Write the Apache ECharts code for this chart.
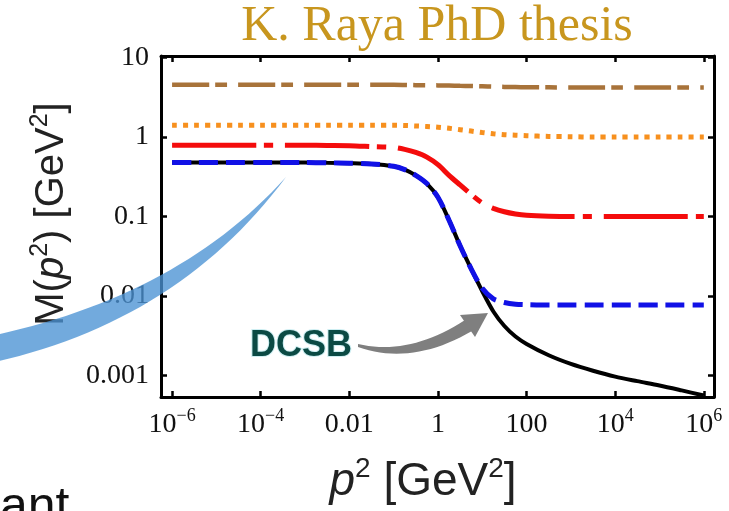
<!DOCTYPE html>
<html>
<head>
<meta charset="utf-8">
<script src="https://cdn.jsdelivr.net/npm/echarts@6/dist/echarts.min.js"></script>
<style>
  html, body { margin: 0; padding: 0; background: #fff; }
  #chart { width: 729px; height: 511px; }
</style>
</head>
<body>
<div id="chart"></div>
<script>
// Momentum grid p^2 [GeV^2]: half decades, quarter decades through the drop
const p2 = [1e-6, 3.16e-6, 1e-5, 3.16e-5, 1e-4, 3.16e-4, 1e-3, 3.16e-3, 0.01, 0.0316,
            0.1, 0.178, 0.316, 0.562, 1, 1.78, 3.16, 5.62, 10, 17.8, 31.6, 56.2, 100,
            316, 1e3, 3.16e3, 1e4, 3.16e4, 1e5, 3.16e5, 1e6];

// Mass functions M(p^2) [GeV]
const chiral  = [0.48, 0.48, 0.48, 0.48, 0.48, 0.48, 0.48, 0.475, 0.47, 0.46,
                 0.43, 0.39, 0.33, 0.26, 0.175, 0.09, 0.043, 0.022, 0.0115, 0.0064, 0.0042, 0.0031, 0.0025,
                 0.0018, 0.0014, 0.00115, 0.00097, 0.00085, 0.00075, 0.00065, 0.00056];
const light   = [0.48, 0.48, 0.48, 0.48, 0.48, 0.48, 0.48, 0.475, 0.47, 0.46,
                 0.43, 0.39, 0.33, 0.26, 0.175, 0.09, 0.043, 0.022, 0.0125, 0.0092, 0.0083, 0.0079, 0.0078,
                 0.0077, 0.0077, 0.0077, 0.0077, 0.0077, 0.0077, 0.0077, 0.0077];
const strange = [0.79, 0.79, 0.79, 0.79, 0.79, 0.79, 0.79, 0.785, 0.78, 0.76,
                 0.74, 0.70, 0.64, 0.56, 0.45, 0.33, 0.25, 0.19, 0.148, 0.127, 0.115, 0.108, 0.104,
                 0.101, 0.1, 0.1, 0.1, 0.1, 0.1, 0.1, 0.1];
const charm   = [1.41, 1.41, 1.41, 1.41, 1.41, 1.41, 1.41, 1.41, 1.41, 1.41,
                 1.41, 1.40, 1.38, 1.36, 1.33, 1.29, 1.24, 1.19, 1.14, 1.10, 1.07, 1.055, 1.04,
                 1.02, 1.01, 1.0, 1.0, 1.0, 1.0, 1.0, 1.0];
const bottom  = [4.55, 4.55, 4.55, 4.55, 4.55, 4.55, 4.55, 4.55, 4.55, 4.55,
                 4.55, 4.53, 4.5, 4.48, 4.47, 4.45, 4.42, 4.39, 4.35, 4.31, 4.28, 4.26, 4.24,
                 4.22, 4.2, 4.2, 4.2, 4.2, 4.2, 4.2, 4.2];

// Tick positions (decimal exponents) and their labels
const xTicks = [-6, -4, -2, 0, 2, 4, 6];
const xTickLabels = ['{b|10}{s|\u22126}', '{b|10}{s|\u22124}', '{b|0.01}', '{b|1}', '{b|100}', '{b|10}{s|4}', '{b|10}{s|6}'];
const yTicks = [-3, -2, -1, 0, 1];
const yTickLabels = ['0.001', '0.01', '0.1', '1', '10'];

const SERIF = '"Liberation Serif", "Times New Roman", serif';
const SANS = '"Liberation Sans", Arial, sans-serif';

function toLog(ys) {
  return p2.map((x, i) => [Math.log10(x), Math.log10(ys[i])]);
}

// sample a quadratic Bezier into polygon vertices (for the annotation shapes)
function quad(p0, c, p1, n) {
  const pts = [];
  for (let k = 0; k <= n; k++) {
    const t = k / n, u = 1 - t;
    pts.push([u * u * p0[0] + 2 * u * t * c[0] + t * t * p1[0],
              u * u * p0[1] + 2 * u * t * c[1] + t * t * p1[1]]);
  }
  return pts;
}

const chart = echarts.init(document.getElementById('chart'));

const frameLine = { show: true, onZero: false, lineStyle: { color: '#000', width: 3 } };
const tickStyle = { color: '#000', width: 2.5 };

function xAxisDef(pos, labels) {
  return {
    type: 'value', position: pos, min: -6.25, max: 6.23,
    axisLine: frameLine,
    splitLine: { show: false },
    axisTick: { show: true, inside: true, length: 6, customValues: xTicks, lineStyle: tickStyle },
    axisLabel: labels ? {
      show: true, customValues: xTicks, margin: 10,
      formatter: v => xTickLabels[xTicks.indexOf(Math.round(v))],
      rich: {
        b: { fontFamily: SERIF, fontSize: 28, color: '#111', verticalAlign: 'bottom', lineHeight: 32 },
        s: { fontFamily: SERIF, fontSize: 18, color: '#111', verticalAlign: 'top', lineHeight: 18 }
      }
    } : { show: false }
  };
}

function yAxisDef(pos, labels) {
  return {
    type: 'value', position: pos, min: -3.27, max: 1.02,
    axisLine: frameLine,
    splitLine: { show: false },
    axisTick: { show: true, inside: true, length: 6, customValues: yTicks, lineStyle: tickStyle },
    axisLabel: labels ? {
      show: true, customValues: yTicks, margin: 12,
      formatter: v => yTickLabels[yTicks.indexOf(Math.round(v))],
      fontFamily: SERIF, fontSize: 28, color: '#111'
    } : { show: false }
  };
}

function curve(name, ys, color, width, dash, z) {
  return {
    name, type: 'line', data: toLog(ys), showSymbol: false, smooth: 0.3,
    z, silent: true,
    lineStyle: { color, width, type: dash, cap: 'butt' }
  };
}

const bandPts = quad([-5, 335], [180, 295], [286, 177], 30).concat(quad([286, 177], [180, 320], [-5, 362], 30));
const arrowBody = quad([358, 344], [410, 356], [465, 320], 20).concat(quad([472, 331], [412, 366], [358, 347], 20));

chart.setOption({
  animation: false,
  backgroundColor: '#fff',
  grid: { left: 161, right: 15, top: 56, bottom: 114 },
  xAxis: [xAxisDef('bottom', true), xAxisDef('top', false)],
  yAxis: [yAxisDef('left', true), yAxisDef('right', false)],
  series: [
    curve('bottom', bottom, '#a8733a', 4.5, [37, 6, 12, 11], 2),
    curve('charm', charm, '#f7901e', 5, [5, 6], 2),
    curve('strange', strange, '#f40c0c', 5, [84, 8, 9, 12], 2),
    curve('chiral', chiral, '#000000', 4, 'solid', 3),
    curve('light', light, '#1111e6', 5, [19, 8], 4)
  ],
  graphic: [
    {
      type: 'text', x: 437, y: 27, z: 10,
      style: { text: 'K. Raya PhD thesis', font: '50px ' + SERIF, fill: '#c8961e', align: 'center', verticalAlign: 'middle' }
    },
    {
      type: 'text', x: 50, y: 214, rotation: Math.PI / 2, z: 10,
      style: {
        text: '{n|M(}{i|p}{s|2}{n|) [GeV}{s|2}{n|]}',
        align: 'center', verticalAlign: 'middle',
        rich: {
          n: { fontFamily: SANS, fontSize: 40, fill: '#222', verticalAlign: 'bottom', lineHeight: 44 },
          i: { fontFamily: SANS, fontSize: 40, fontStyle: 'italic', fill: '#222', verticalAlign: 'bottom', lineHeight: 44 },
          s: { fontFamily: SANS, fontSize: 25, fill: '#222', verticalAlign: 'top', lineHeight: 25 }
        }
      }
    },
    {
      type: 'text', x: 423, y: 480, z: 10,
      style: {
        text: '{i|p}{s|2}{n| [GeV}{s|2}{n|]}',
        align: 'center', verticalAlign: 'middle',
        rich: {
          n: { fontFamily: SANS, fontSize: 46, fill: '#222', verticalAlign: 'bottom', lineHeight: 50 },
          i: { fontFamily: SANS, fontSize: 46, fontStyle: 'italic', fill: '#222', verticalAlign: 'bottom', lineHeight: 50 },
          s: { fontFamily: SANS, fontSize: 28, fill: '#222', verticalAlign: 'top', lineHeight: 28 }
        }
      }
    },
    {
      // sweeping blue band
      type: 'polygon', z: 20,
      shape: { points: bandPts },
      style: { fill: 'rgba(74,146,212,0.78)' }
    },
    {
      type: 'text', x: 301, y: 346, z: 21,
      style: {
        text: 'DCSB', font: 'bold 36px ' + SANS, fill: '#0b4a44',
        align: 'center', verticalAlign: 'middle',
        stroke: '#cdeef2', lineWidth: 2,
        shadowColor: 'rgba(0,0,0,0.85)', shadowBlur: 2
      }
    },
    {
      // arrow from DCSB towards the chiral curve
      type: 'polygon', z: 21,
      shape: { points: arrowBody },
      style: { fill: '#7f7f7f' }
    },
    {
      type: 'polygon', z: 21,
      shape: { points: [[460, 315], [488, 313], [475, 337]] },
      style: { fill: '#7f7f7f' }
    },
    {
      type: 'text', x: 0, y: 533, z: 10,
      style: { text: 'ant', font: '50px ' + SANS, fill: '#111', verticalAlign: 'bottom' }
    }
  ]
});
</script>
</body>
</html>
